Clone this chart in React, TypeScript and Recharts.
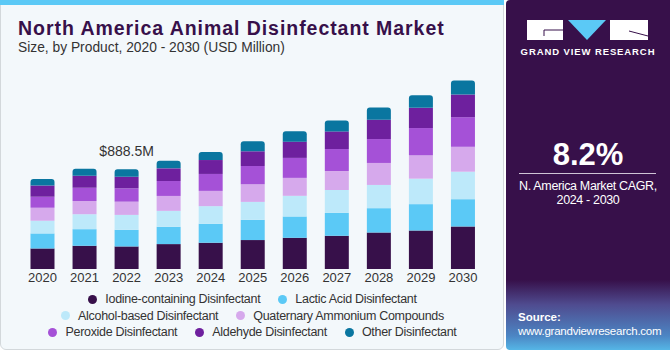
import React from 'react';
import { BarChart, Bar, XAxis, YAxis, LabelList } from 'recharts';

const years = ['2020', '2021', '2022', '2023', '2024', '2025', '2026', '2027', '2028', '2029', '2030'];

const iodine = [183, 207, 201, 222, 234, 258, 278, 296, 325, 343, 379];
const lactic = [134, 148, 148, 154, 169, 180, 190, 204, 217, 235, 243];
const alcohol = [113, 133, 133, 142, 157, 160, 184, 204, 207, 227, 245];
const quaternary = [116, 118, 118, 133, 136, 157, 160, 169, 196, 208, 222];
const peroxide = [98, 118, 119, 133, 151, 163, 178, 196, 213, 243, 264];
const aldehyde = [100, 107, 103, 113, 124, 131, 145, 157, 172, 180, 202];
const other = [57, 62, 66.5, 68, 71, 89, 92, 98, 110, 113, 124];

const series = [
  { key: 'iodine', name: 'Iodine-containing Disinfectant', color: '#37104a', values: iodine },
  { key: 'lactic', name: 'Lactic Acid Disinfectant', color: '#5bc9f6', values: lactic },
  { key: 'alcohol', name: 'Alcohol-based Disinfectant', color: '#bde9fa', values: alcohol },
  { key: 'quaternary', name: 'Quaternary Ammonium Compounds', color: '#d6a9ec', values: quaternary },
  { key: 'peroxide', name: 'Peroxide Disinfectant', color: '#a551d7', values: peroxide },
  { key: 'aldehyde', name: 'Aldehyde Disinfectant', color: '#6e209e', values: aldehyde },
  { key: 'other', name: 'Other Disinfectant', color: '#0a76a0', values: other },
];

// legend rows as laid out in the original
const legendRows = [
  ['iodine', 'lactic'],
  ['alcohol', 'quaternary'],
  ['peroxide', 'aldehyde', 'other'],
];

const highlightYear = '2022';
const highlightLabel = '$888.5M';

const data = years.map((year, i) => {
  const row: Record<string, any> = { year };
  series.forEach(s => { row[s.key] = s.values[i]; });
  return row;
});

const FONT = '"Liberation Sans", Arial, sans-serif';

const TopLabel = (props: any) => {
  const { x, y, width, index } = props;
  if (years[index] !== highlightYear) return null;
  return (
    <text x={x + width / 2} y={y - 13} textAnchor="middle" fontSize={14} fill="#333" fontFamily={FONT}>
      {highlightLabel}
    </text>
  );
};

export default function App() {
  return (
    <div style={{ position: 'absolute', left: 0, top: 0, width: 670, height: 350, fontFamily: FONT, background: '#fff', overflow: 'hidden' }}>
      {/* left panel */}
      <div style={{ position: 'absolute', left: 0, top: 0, width: 502, height: 348, background: '#f3f8fb', border: '1px solid #d3d8db', borderRadius: '0 0 6px 6px' }} />
      <div style={{ position: 'absolute', left: 0, top: 0, width: 504, height: 5, background: '#5bc9f6' }} />
      <div style={{ position: 'absolute', left: 18, top: 17, fontSize: 19.5, fontWeight: 700, color: '#37104a', whiteSpace: 'nowrap', letterSpacing: 0.95 }}>
        North America Animal Disinfectant Market
      </div>
      <div style={{ position: 'absolute', left: 18, top: 40, fontSize: 13.8, color: '#333', whiteSpace: 'nowrap' }}>
        Size, by Product, 2020 - 2030 (USD Million)
      </div>

      <div style={{ position: 'absolute', left: 0, top: 0 }}>
        <BarChart width={505} height={350} data={data} margin={{ top: 67, right: 21, left: 21.5, bottom: 61 }} barSize={24}>
          <XAxis dataKey="year" axisLine={false} tickLine={false} height={20} dy={-4} tick={{ fontSize: 13, fill: '#333', fontFamily: FONT }} interval={0} />
          <YAxis hide domain={[0, 1800]} />
          {series.map((s, i) => (
            <Bar
              key={s.key}
              dataKey={s.key}
              name={s.name}
              stackId="a"
              fill={s.color}
              isAnimationActive={false}
              radius={i === series.length - 1 ? [3, 3, 0, 0] : 0}
            >
              {i === series.length - 1 && <LabelList dataKey={s.key} content={TopLabel} />}
            </Bar>
          ))}
        </BarChart>
      </div>

      {/* legend */}
      <div style={{ position: 'absolute', left: 0, top: 291, width: 505, fontSize: 12.5, letterSpacing: -0.3, color: '#333' }}>
        {legendRows.map((row, r) => (
          <div key={r} style={{ display: 'flex', justifyContent: 'center', gap: 18, height: 16.5, alignItems: 'center' }}>
            {row.map(k => {
              const s = series.find(x => x.key === k)!;
              return (
                <div key={k} style={{ display: 'flex', alignItems: 'center', whiteSpace: 'nowrap' }}>
                  <span style={{ width: 9, height: 9, borderRadius: '50%', background: s.color, marginRight: 8, display: 'inline-block' }} />
                  {s.name}
                </div>
              );
            })}
          </div>
        ))}
      </div>

      {/* right panel */}
      <div style={{ position: 'absolute', left: 506, top: 0, width: 164, height: 350, background: 'linear-gradient(180deg, #37104a 0%, #37104a 80%, #4f4b8f 87%, #4c86c4 96%, #55b6e6 100%)', borderRadius: '4px 0 0 4px' }} />
      <svg style={{ position: 'absolute', left: 506, top: 0 }} width={164} height={350}>
        <rect x={21} y={20} width={36} height={20} fill="#fff" />
        <line x1={38} y1={30} x2={57} y2={30} stroke="#37104a" strokeWidth={1} />
        <line x1={38} y1={30} x2={38} y2={36} stroke="#37104a" strokeWidth={1} />
        <polygon points="62,20 100,20 81,40" fill="#5bc9f6" />
        <rect x={104} y={20} width={38} height={20} fill="#fff" />
        <line x1={123} y1={31} x2={142} y2={36} stroke="#37104a" strokeWidth={1} />
        <text x={82} y={55} textAnchor="middle" fontSize={9.5} fontWeight={700} fill="#fff" letterSpacing={0.9} fontFamily={FONT}>GRAND VIEW RESEARCH</text>
        <text x={82} y={165} textAnchor="middle" fontSize={31} fontWeight={700} fill="#fff" fontFamily={FONT}>8.2%</text>
        <line x1={13} y1={173.5} x2={150} y2={173.5} stroke="#cfc4d6" strokeWidth={1} />
        <text x={82} y={190} textAnchor="middle" fontSize={12.5} letterSpacing={-0.35} fill="#fff" fontFamily={FONT}>N. America Market CAGR,</text>
        <text x={82} y={204} textAnchor="middle" fontSize={12.5} letterSpacing={-0.35} fill="#fff" fontFamily={FONT}>2024 - 2030</text>
        <text x={12} y={321} fontSize={11.5} fontWeight={700} fill="#fff" fontFamily={FONT}>Source:</text>
        <text x={12} y={335} fontSize={11.5} letterSpacing={-0.25} fill="#fff" fontFamily={FONT}>www.grandviewresearch.com</text>
      </svg>
    </div>
  );
}
